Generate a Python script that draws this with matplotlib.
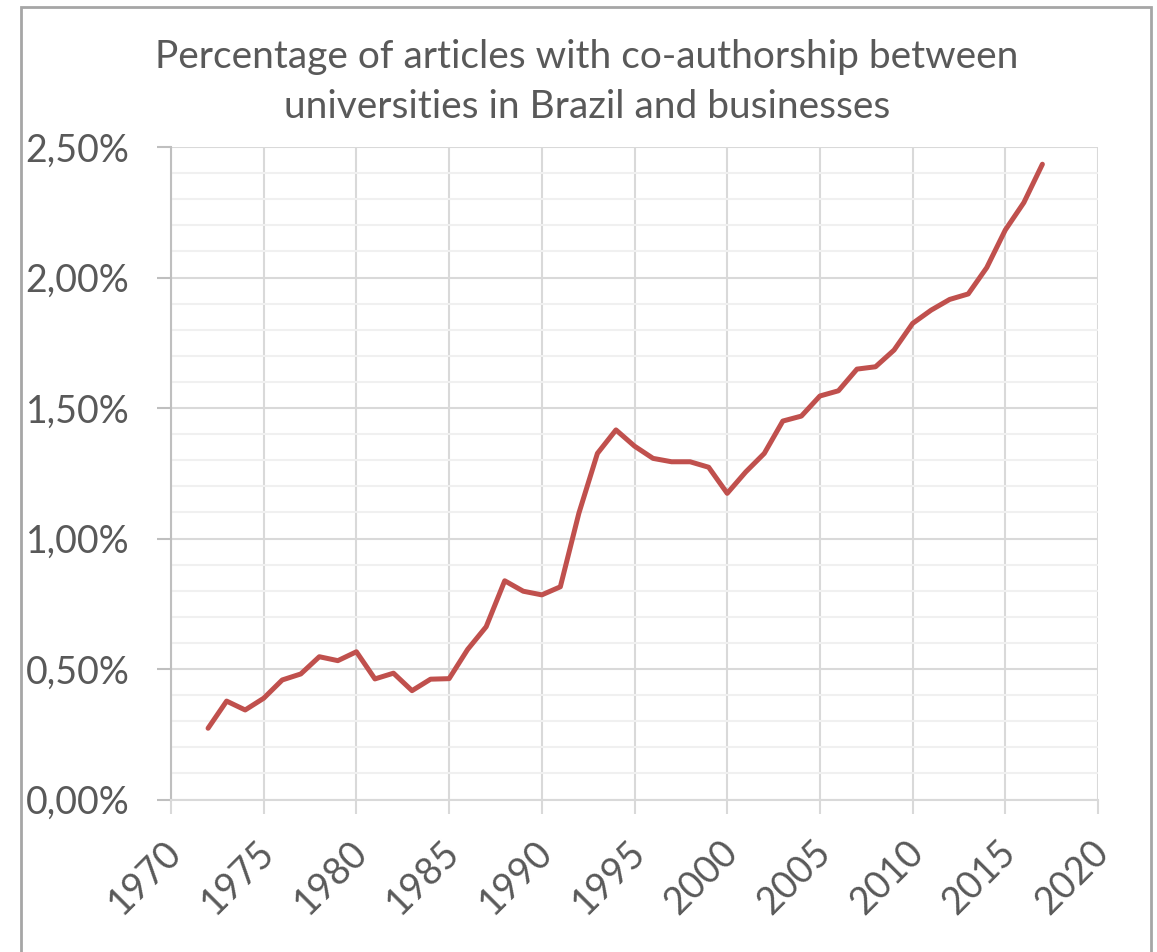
import matplotlib
matplotlib.use("Agg")
import matplotlib.pyplot as plt
from matplotlib.patches import Rectangle
from matplotlib.ticker import MultipleLocator
from matplotlib.transforms import ScaledTranslation

# Share of articles co-authored by Brazilian universities and businesses (%)
years = list(range(1972, 2018))
share_pct = [
    0.273, 0.377, 0.343, 0.388, 0.458, 0.481, 0.547, 0.532, 0.566, 0.462,
    0.484, 0.417, 0.461, 0.463, 0.575, 0.662, 0.838, 0.798, 0.784, 0.815,
    1.097, 1.326, 1.416, 1.354, 1.307, 1.294, 1.294, 1.273, 1.173, 1.255,
    1.326, 1.450, 1.469, 1.546, 1.566, 1.649, 1.658, 1.722, 1.824, 1.875,
    1.916, 1.937, 2.038, 2.182, 2.287, 2.434,
]

x_ticks = [1970, 1975, 1980, 1985, 1990, 1995, 2000, 2005, 2010, 2015, 2020]
x_tick_labels = [str(t) for t in x_ticks]
y_ticks = [0.0, 0.5, 1.0, 1.5, 2.0, 2.5]
y_tick_labels = ["0,00%", "0,50%", "1,00%", "1,50%", "2,00%", "2,50%"]

title_lines = ["Percentage of articles with co-authorship between",
               "universities in Brazil and businesses"]

TEXT = "#595959"
LINE = "#C0504D"
MAJOR = "#D9D9D9"
MINOR = "#F0F0F0"
FONT = "Lato"

W, H = 1157, 952
fig = plt.figure(figsize=(W / 100, H / 100), dpi=100)
fig.patch.set_facecolor("white")

left, right, top, bottom = 171, 1098, 147, 799.5
ax = fig.add_axes([left / W, 1 - bottom / H, (right - left) / W, (bottom - top) / H])

ax.plot(years, share_pct, color=LINE, lw=3.6, solid_capstyle="round",
        solid_joinstyle="round", zorder=3)

ax.set_xlim(x_ticks[0], x_ticks[-1])
ax.set_ylim(y_ticks[0], y_ticks[-1])
ax.set_xticks(x_ticks)
ax.set_xticklabels(x_tick_labels)
ax.set_yticks(y_ticks)
ax.set_yticklabels(y_tick_labels)
ax.yaxis.set_minor_locator(MultipleLocator(0.1))

ax.grid(which="major", axis="both", color=MAJOR, lw=1.5, zorder=1)
ax.grid(which="minor", axis="y", color=MINOR, lw=1.5, zorder=0)

for side in ("top", "right"):
    ax.spines[side].set_visible(False)
ax.spines["left"].set_color("#BFBFBF")
ax.spines["left"].set_linewidth(1.5)
ax.spines["bottom"].set_color(MAJOR)
ax.spines["bottom"].set_linewidth(1.5)

ax.tick_params(axis="both", which="major", length=10, width=1.5, color=MAJOR,
               labelcolor=TEXT, labelsize=27)
ax.tick_params(axis="y", which="major", color="#BFBFBF", pad=20)
ax.tick_params(axis="y", which="minor", length=0)
ax.tick_params(axis="x", pad=24)

for lbl in ax.get_yticklabels():
    lbl.set_fontfamily(FONT)
shift_right = ScaledTranslation(5 / 100, 0, fig.dpi_scale_trans)
for lbl in ax.get_xticklabels():
    lbl.set_fontfamily(FONT)
    lbl.set_rotation(45)
    lbl.set_ha("right")
    lbl.set_va("center")
    lbl.set_rotation_mode("anchor")
    lbl.set_transform(lbl.get_transform() + shift_right)

for i, line in enumerate(title_lines):
    fig.text(587 / W, 1 - (57 + 50 * i) / H, line, ha="center", va="center",
             color=TEXT, fontsize=28, fontfamily=FONT)

# Chart-area frame
fig.patches.append(Rectangle((21 / W, -0.02), (1151 - 21) / W, 1.02 - 7 / H,
                             transform=fig.transFigure, fill=False,
                             edgecolor="#A6A6A6", lw=2, zorder=0))

fig.savefig("out.png", dpi=100, facecolor="white")
